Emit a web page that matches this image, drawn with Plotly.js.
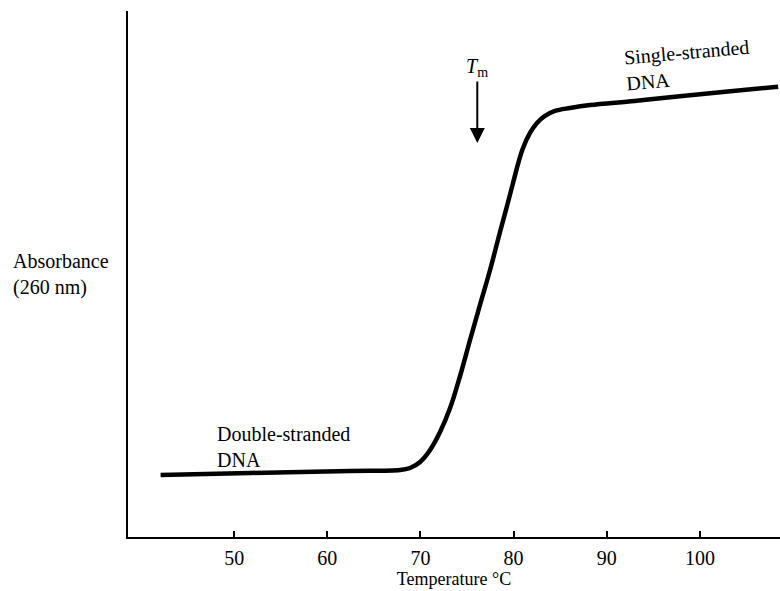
<!DOCTYPE html>
<html>
<head>
<meta charset="utf-8">
<script src="https://cdn.plot.ly/plotly-3.0.1.min.js"></script>
<style>html,body{margin:0;padding:0;background:#fff;}#chart{width:780px;height:591px;}</style>
</head>
<body>
<div id="chart"></div>
<script>
// Temperature (°C) and relative absorbance at 260 nm (arbitrary units)
var temperature = [42.1, 51.7, 62.4, 67.81, 68.88, 69.96, 71.03, 72.10, 73.18, 74.25, 75.32, 76.39, 77.47, 78.54, 79.29, 79.94, 80.47, 81.01, 81.76, 82.51, 83.37, 84.44, 86.05, 88.2, 93, 97.85, 103, 108.4];
var absorbance  = [0.118, 0.1217, 0.1255, 0.1274, 0.1312, 0.1426, 0.1654, 0.1996, 0.2452, 0.3061, 0.3745, 0.4411, 0.5076, 0.5798, 0.6293, 0.6730, 0.7091, 0.7395, 0.7681, 0.7871, 0.8004, 0.8099, 0.8156, 0.8213, 0.829, 0.838, 0.847, 0.856];
var tickValues = [50, 60, 70, 80, 90, 100];
var tickLabels = ["50", "60", "70", "80", "90", "100"];
var tmValue = 76.1;

var serif = "Liberation Serif, Times New Roman, serif";

var trace = {
  x: temperature,
  y: absorbance,
  type: "scatter",
  mode: "lines",
  line: {color: "#000", width: 4.5, shape: "spline", smoothing: 1},
  hoverinfo: "skip"
};

var layout = {
  width: 780,
  height: 591,
  margin: {l: 128, r: 0, t: 11, b: 54, pad: 0},
  paper_bgcolor: "#fff",
  plot_bgcolor: "#fff",
  showlegend: false,
  font: {family: serif, size: 20, color: "#000"},
  xaxis: {
    range: [38.6, 108.6],
    showline: true, linecolor: "#000", linewidth: 2,
    showgrid: false, zeroline: false,
    tickmode: "array", tickvals: tickValues, ticktext: tickLabels,
    ticks: "inside", ticklen: 6, tickwidth: 2, tickcolor: "#000",
    tickfont: {family: serif, size: 20, color: "#000"},
    ticklabelstandoff: 2,
    title: {text: "Temperature °C", font: {family: serif, size: 18, color: "#000"}, standoff: 4}
  },
  yaxis: {
    range: [0, 1],
    showline: true, linecolor: "#000", linewidth: 2,
    showgrid: false, zeroline: false,
    showticklabels: false, ticks: ""
  },
  annotations: [
    {xref: "paper", yref: "paper", x: -0.18, y: 0.5, xanchor: "left", yanchor: "middle",
     text: "Absorbance<br>(260 nm)", showarrow: false, align: "left",
     font: {family: serif, size: 20, color: "#000"}},
    {xref: "x", yref: "y", x: 47.9, y: 0.171, xanchor: "left", yanchor: "middle",
     text: "Double-stranded<br>DNA", showarrow: false, align: "left",
     font: {family: serif, size: 20, color: "#000"}},
    {xref: "x", yref: "y", x: 98.7, y: 0.898, xanchor: "center", yanchor: "middle",
     text: "Single-stranded<br>DNA", showarrow: false, align: "left", textangle: -5,
     font: {family: serif, size: 20, color: "#000"}},
    {xref: "x", yref: "y", x: tmValue, y: 0.892, xanchor: "center", yanchor: "middle",
     text: "<i>T</i><sub>m</sub>", showarrow: false,
     font: {family: serif, size: 20, color: "#000"}},
    {xref: "x", yref: "y", axref: "x", ayref: "y",
     x: tmValue, y: 0.749, ax: tmValue, ay: 0.869,
     text: "", showarrow: true, arrowhead: 2, arrowsize: 1.5, arrowwidth: 2, arrowcolor: "#000"}
  ]
};

Plotly.newPlot("chart", [trace], layout, {staticPlot: true, displayModeBar: false});
</script>
</body>
</html>
